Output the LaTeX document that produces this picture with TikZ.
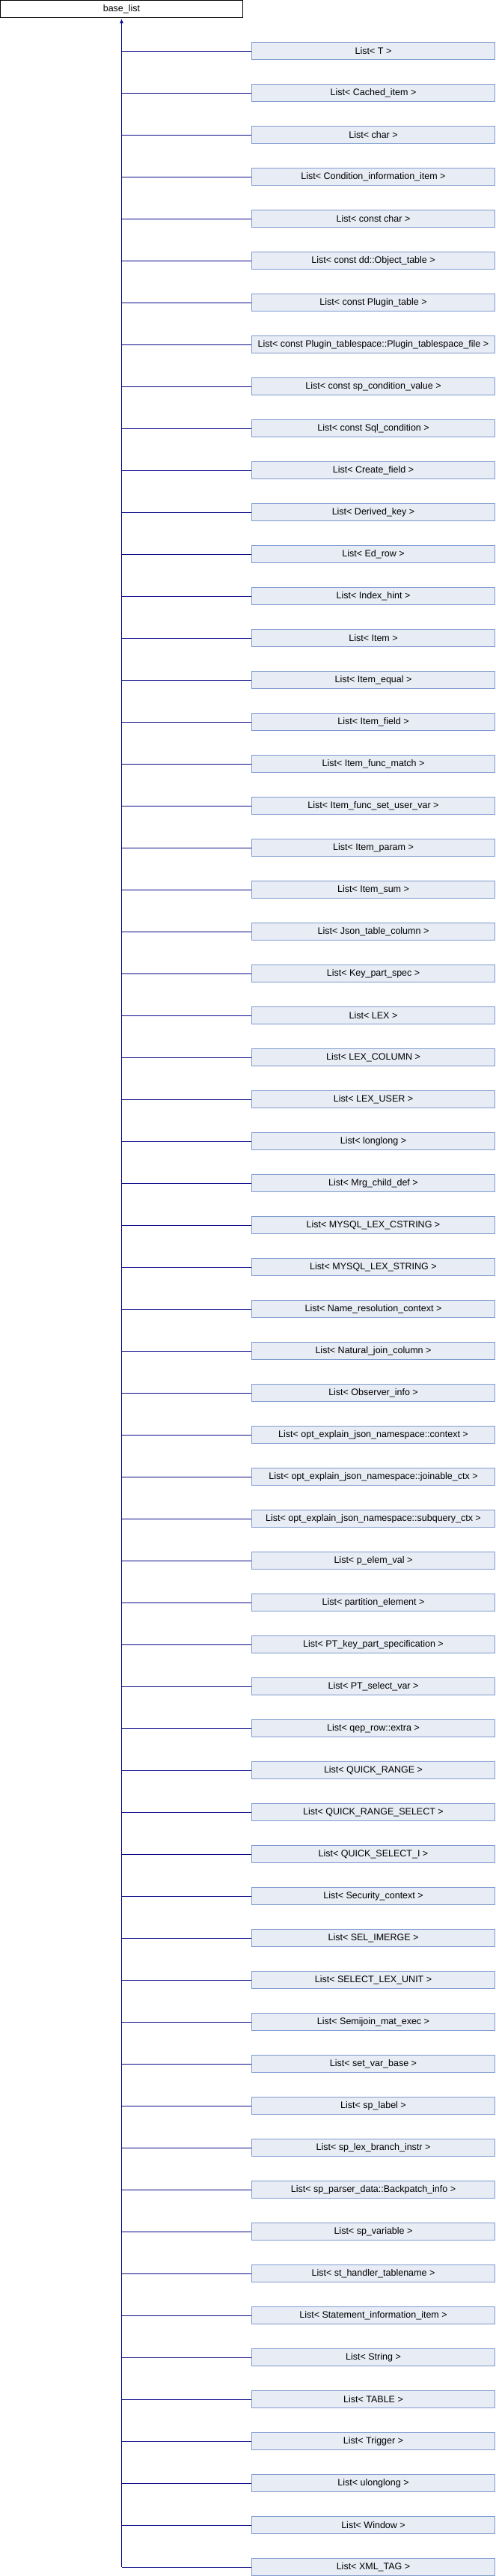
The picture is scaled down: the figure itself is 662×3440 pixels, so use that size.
\documentclass[tikz,border=0pt]{standalone}
\usepackage{fontspec}
\setmainfont{Liberation Sans}
\usetikzlibrary{arrows.meta}
\definecolor{boxfill}{HTML}{E8ECF5}
\definecolor{boxline}{HTML}{7F9BCF}
\definecolor{connc}{HTML}{0A0A8A}
\begin{document}
\begin{tikzpicture}[x=1pt,y=-1pt,
  font=\fontsize{12.5}{14}\selectfont,
  basebox/.style={draw=black,fill=white,line width=1pt,minimum width=324pt,minimum height=23pt,inner sep=0pt},
  childbox/.style={draw=boxline,fill=boxfill,line width=1pt,minimum width=325pt,minimum height=23pt,inner sep=0pt},
  conn/.style={draw=connc,line width=1pt}]
\useasboundingbox (0,0) rectangle (662,3440);
\node[basebox] (base) at (162.5,12) {base\_list};
\foreach \t [count=\i] in {T, Cached\_item, char, Condition\_information\_item, const char, const dd::Object\_table, const Plugin\_table, const Plugin\_tablespace::Plugin\_tablespace\_file, const sp\_condition\_value, const Sql\_condition, Create\_field, Derived\_key, Ed\_row, Index\_hint, Item, Item\_equal, Item\_field, Item\_func\_match, Item\_func\_set\_user\_var, Item\_param, Item\_sum, Json\_table\_column, Key\_part\_spec, LEX, LEX\_COLUMN, LEX\_USER, longlong, Mrg\_child\_def, MYSQL\_LEX\_CSTRING, MYSQL\_LEX\_STRING, Name\_resolution\_context, Natural\_join\_column, Observer\_info, opt\_explain\_json\_namespace::context, opt\_explain\_json\_namespace::joinable\_ctx, opt\_explain\_json\_namespace::subquery\_ctx, p\_elem\_val, partition\_element, PT\_key\_part\_specification, PT\_select\_var, qep\_row::extra, QUICK\_RANGE, QUICK\_RANGE\_SELECT, QUICK\_SELECT\_I, Security\_context, SEL\_IMERGE, SELECT\_LEX\_UNIT, Semijoin\_mat\_exec, set\_var\_base, sp\_label, sp\_lex\_branch\_instr, sp\_parser\_data::Backpatch\_info, sp\_variable, st\_handler\_tablename, Statement\_information\_item, String, TABLE, Trigger, ulonglong, Window, XML\_TAG}
  \node[childbox] (c\i) at (499,{68.2+56*(\i-1)}) {List< \t{} >};
\foreach \i in {1,...,61}
  \draw[conn] (c\i.west) -- (c\i.west -| base.south);
\draw[conn,-{Latex[length=6pt,width=5pt]}] (c61.west -| base.south) -- ([yshift=-1pt]base.south);
\end{tikzpicture}
\end{document}
